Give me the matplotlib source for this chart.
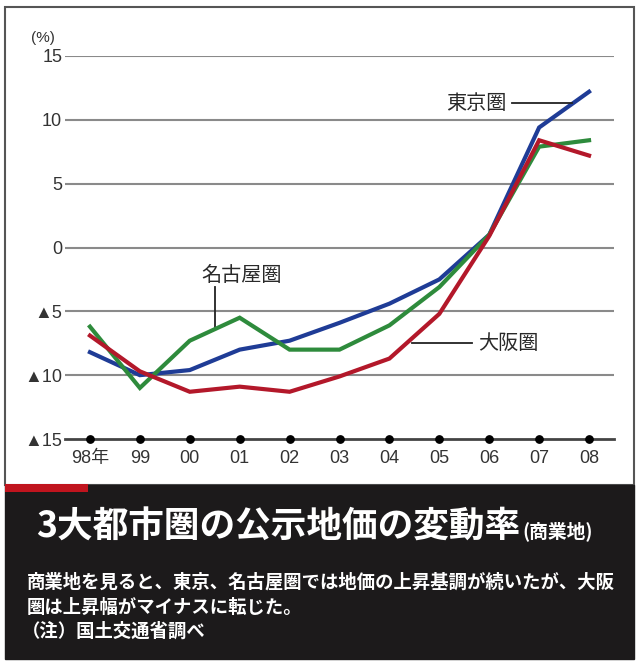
import matplotlib
matplotlib.use("Agg")
import matplotlib.pyplot as plt
from matplotlib.patches import Rectangle

plt.rcParams['font.family'] = ['Noto Sans CJK JP', 'DejaVu Sans']

years = ["98年", "99", "00", "01", "02", "03", "04", "05", "06", "07", "08"]
tokyo = [-8.2, -10.0, -9.6, -8.0, -7.3, -5.9, -4.4, -2.5, 1.0, 9.4, 12.2]
nagoya = [-6.2, -11.0, -7.3, -5.5, -8.0, -8.0, -6.1, -3.1, 1.0, 7.9, 8.4]
osaka = [-6.9, -9.7, -11.3, -10.9, -11.3, -10.1, -8.7, -5.2, 0.9, 8.4, 7.2]
yticks = [15, 10, 5, 0, -5, -10, -15]
ylabels = ["15", "10", "5", "0", "▲5", "▲10", "▲15"]

W, H = 640, 669
fig = plt.figure(figsize=(W / 100, H / 100), dpi=100)
fig.patch.set_facecolor("white")

def fx(px):
    return px / W

def fy(py):
    return 1 - py / H

# outer panel frame
fig.patches.append(Rectangle((fx(5), fy(485)), fx(634) - fx(5), fy(7) - fy(485),
                             transform=fig.transFigure, facecolor="white",
                             edgecolor="#555555", linewidth=1.5, zorder=-5))
# black caption box
fig.patches.append(Rectangle((fx(5), fy(659)), fx(634) - fx(5), fy(485) - fy(659),
                             transform=fig.transFigure, facecolor="#1c1a1b",
                             edgecolor="#1c1a1b", linewidth=1, zorder=-4))
# red accent
fig.patches.append(Rectangle((fx(5), fy(492)), fx(88) - fx(5), fy(484) - fy(492),
                             transform=fig.transFigure, facecolor="#c0141e",
                             edgecolor="none", zorder=-3))

ax = fig.add_axes([fx(65), fy(439), fx(614) - fx(65), fy(56) - fy(439)])
ax.set_zorder(2)
ax.set_facecolor("none")
x = list(range(len(years)))
ax.set_xlim(-0.5, 10.5)
ax.set_ylim(-15, 15)

for v in yticks:
    if v == -15:
        ax.axhline(v, color="#444444", linewidth=2.0, zorder=1, clip_on=False)
    else:
        ax.axhline(v, color="#8a8a8a", linewidth=1.5, zorder=1)

ax.plot(x, nagoya, color="#2e8b3c", linewidth=3.0, zorder=3, solid_joinstyle="miter")
ax.plot(x, osaka, color="#b3182a", linewidth=3.0, zorder=4, solid_joinstyle="miter")
ax.plot(x, tokyo, color="#1f3c96", linewidth=3.0, zorder=2, solid_joinstyle="miter")

ax.scatter(x, [-15] * len(x), s=28, color="black", zorder=5, clip_on=False)

for s in ax.spines.values():
    s.set_visible(False)
ax.set_yticks(yticks)
ax.set_yticklabels(ylabels, fontsize=13, color="#333333",
                   family=['Liberation Sans', 'DejaVu Sans'])
ax.set_xticks(x)
ax.set_xticklabels(years, fontsize=13, color="#333333",
                   family=['Liberation Sans', 'Noto Sans CJK JP', 'DejaVu Sans'])
ax.tick_params(axis="both", length=0)
ax.tick_params(axis="y", pad=2)
ax.tick_params(axis="x", pad=8)

ax.text(-0.95, 16.4, "(%)", fontsize=11, color="#333333", ha="center", va="center",
        family=['Liberation Sans', 'DejaVu Sans'])

# annotations
ann_kw = dict(fontsize=14.5, color="#2a2a2a", ha="center", va="center")
ax.text(7.74, 11.3, "東京圏", **ann_kw)
ax.plot([8.46, 9.66], [11.3, 11.3], color="#222222", linewidth=1.3, zorder=2)

ax.text(3.04, -2.2, "名古屋圏", **ann_kw)
ax.plot([2.5, 2.5], [-3.1, -6.4], color="#222222", linewidth=1.3, zorder=2)

ax.text(8.38, -7.5, "大阪圏", **ann_kw)
ax.plot([6.46, 7.66], [-7.5, -7.5], color="#222222", linewidth=1.3, zorder=2)

# caption texts
fig.text(fx(36), fy(527), "3大都市圏の公示地価の変動率", fontsize=25.7, color="white",
         fontweight="bold", ha="left", va="center", zorder=5)
fig.text(fx(522), fy(531), "(商業地)", fontsize=13.5, color="white",
         fontweight="bold", ha="left", va="center", zorder=5)
fig.text(fx(27), fy(582), "商業地を見ると、東京、名古屋圏では地価の上昇基調が続いたが、大阪",
         fontsize=13.2, color="white", fontweight="bold", ha="left", va="center", zorder=5)
fig.text(fx(27), fy(607), "圏は上昇幅がマイナスに転じた。",
         fontsize=13.2, color="white", fontweight="bold", ha="left", va="center", zorder=5)
fig.text(fx(22), fy(631), "（注）国土交通省調べ",
         fontsize=13.2, color="white", fontweight="bold", ha="left", va="center", zorder=5)

fig.savefig("out.png", dpi=100, facecolor="white")
